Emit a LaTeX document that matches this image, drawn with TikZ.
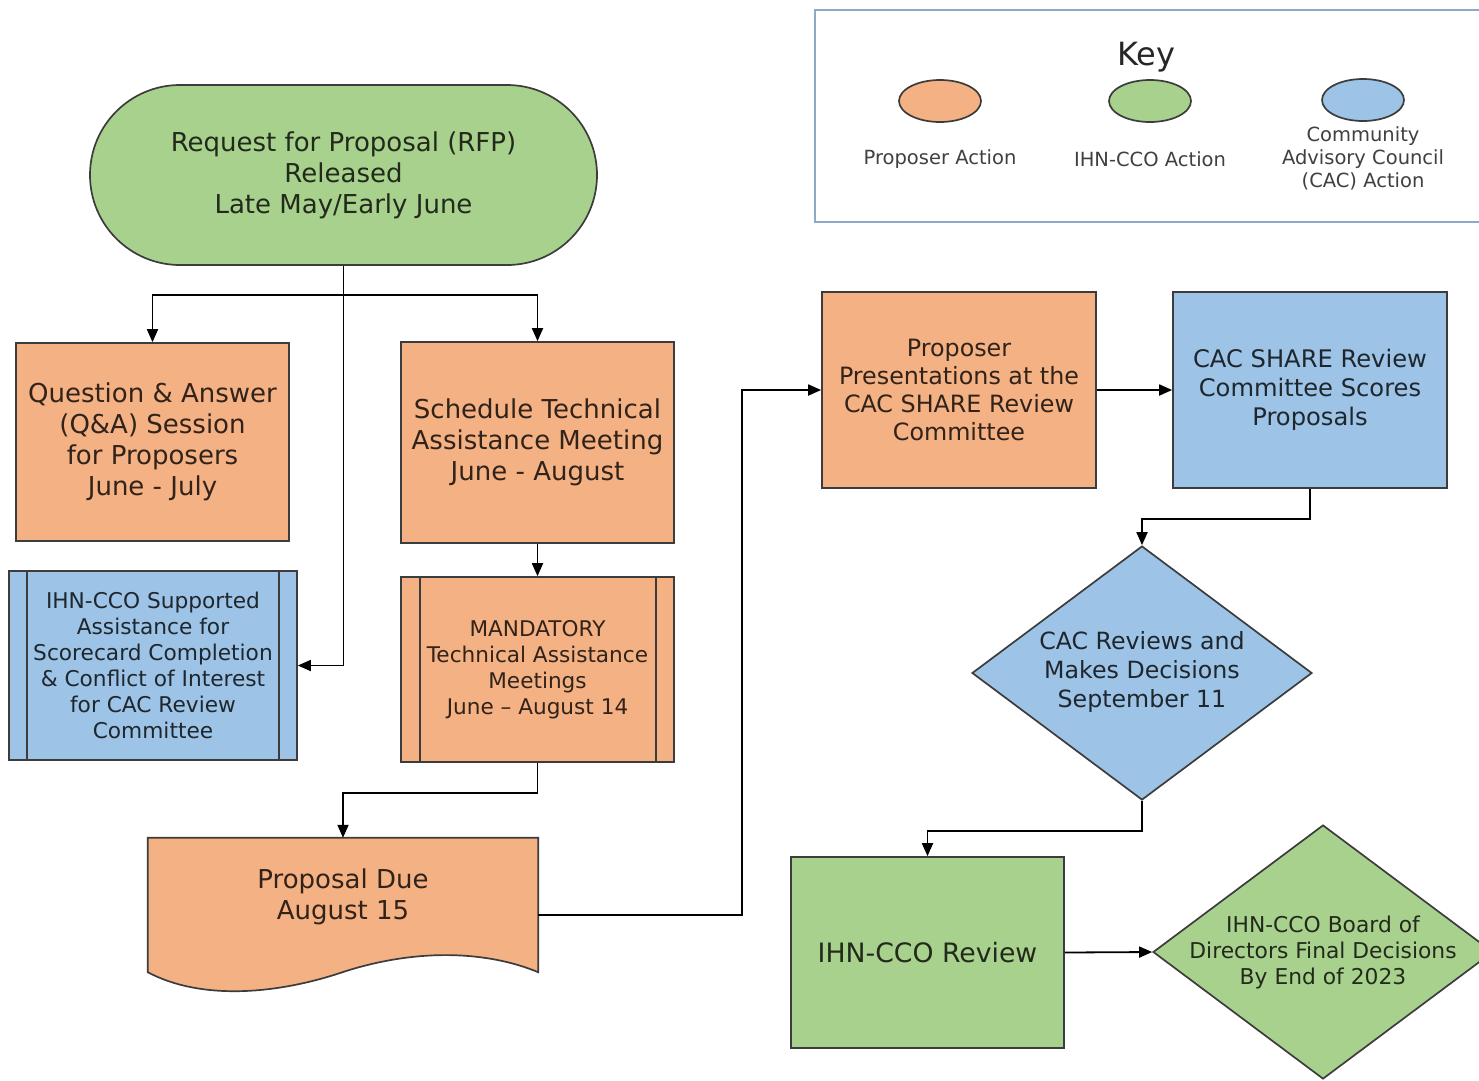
\documentclass[tikz,border=0pt]{standalone}
\usepackage{fontspec}
\setmainfont{DejaVu Sans}
\usetikzlibrary{shapes.geometric,arrows.meta}
\definecolor{orf}{HTML}{F4B183}
\definecolor{grf}{HTML}{A9D18E}
\definecolor{blf}{HTML}{9DC3E6}
\definecolor{bord}{HTML}{3C3C3C}
\definecolor{keyb}{HTML}{8EA9C8}
\newcommand{\fsz}[2]{\fontsize{#1}{#2}\selectfont}
\begin{document}
\begin{tikzpicture}[x=1pt,y=-1pt,
  base/.style={draw=bord, line width=1.7pt, align=center, inner sep=0pt},
  orbox/.style={base, fill=orf, text=orf!20!black},
  grbox/.style={base, fill=grf, text=grf!20!black},
  blbox/.style={base, fill=blf, text=blf!20!black},
  conn/.style={line width=1.8pt, black, -{Triangle[length=13pt,width=11pt]}},
  plain/.style={line width=1.8pt, black},
  inner/.style={draw=bord, line width=1.7pt}]
\useasboundingbox (0,0) rectangle (1479,1080);
\fill[white] (0,0) rectangle (1479,1080);
\clip (0,0) rectangle (1479,1080);

% Key
\node[draw=keyb, line width=2pt, minimum width=680pt, minimum height=212pt] (key) at (1155,116) {};
\node[font=\fsz{32}{36}, text=black!85] (keyt) at (1146,57) {Key};
\node[ellipse, base, fill=orf, minimum width=82pt, minimum height=42pt] (k1) at (940,101) {};
\node[ellipse, base, fill=grf, minimum width=82pt, minimum height=42pt] (k2) at (1150,101) {};
\node[ellipse, base, fill=blf, minimum width=82pt, minimum height=42pt] (k3) at (1363,100) {};
\node[font=\fsz{19.5}{23}, text=black!75, align=center] (k1t) at (940,159) {Proposer Action};
\node[font=\fsz{19.5}{23}, text=black!75, align=center] (k2t) at (1150,159) {IHN-CCO Action};
\node[font=\fsz{19.5}{23}, text=black!75, align=center] (k3t) at (1363,158) {Community\\Advisory Council\\(CAC) Action};

% Main nodes
\node[grbox, rounded corners=90pt, minimum width=507pt, minimum height=180pt, font=\fsz{26}{31}] (rfp) at (343.5,175) {Request for Proposal (RFP)\\Released\\Late May/Early June};
\node[orbox, minimum width=273pt, minimum height=198pt, font=\fsz{26}{31}] (qa) at (152.5,442) {Question \& Answer\\(Q\&A) Session\\for Proposers\\June - July};
\node[orbox, minimum width=273pt, minimum height=201pt, font=\fsz{26}{31}] (ta) at (537.5,442.5) {Schedule Technical\\Assistance Meeting\\June - August};
\node[blbox, minimum width=288pt, minimum height=189pt, font=\fsz{21.7}{26}] (sup) at (153,665.5) {IHN-CCO Supported\\Assistance for\\Scorecard Completion\\\& Conflict of Interest\\for CAC Review\\Committee};
\draw[inner] ([xshift=19pt]sup.north west) -- ([xshift=19pt]sup.south west);
\draw[inner] ([xshift=-19pt]sup.north east) -- ([xshift=-19pt]sup.south east);
\node[orbox, minimum width=273pt, minimum height=185pt, font=\fsz{21.6}{26}] (mand) at (537.5,669.5) {MANDATORY\\Technical Assistance\\Meetings\\June -- August 14};
\draw[inner] ([xshift=20pt]mand.north west) -- ([xshift=20pt]mand.south west);
\draw[inner] ([xshift=-19pt]mand.north east) -- ([xshift=-19pt]mand.south east);

% Document shape
\node[inner sep=0pt, minimum width=390pt, minimum height=117pt] (due) at (343,896.5) {};
\filldraw[fill=orf, draw=bord, line width=1.7pt] (due.north west) -- (due.north east) -- ([yshift=-17pt]due.south east) .. controls (490,952) and (420,947) .. (343,972) .. controls (275,995) and (200,1000) .. ([yshift=-17pt]due.south west) -- cycle;
\node[align=center, inner sep=0pt, font=\fsz{26}{31}, text=orf!20!black] (duet) at (due.center) {Proposal Due\\August 15};

\node[orbox, minimum width=274pt, minimum height=196pt, font=\fsz{23.8}{28}] (pres) at (959,390) {Proposer\\Presentations at the\\CAC SHARE Review\\Committee};
\node[blbox, minimum width=274pt, minimum height=196pt, font=\fsz{24.2}{29}] (share) at (1310,390) {CAC SHARE Review\\Committee Scores\\Proposals};
\node[diamond, base, fill=blf, minimum width=340pt, minimum height=254pt] (rev) at (1142,673) {};
\node[align=center, font=\fsz{23.7}{29}, text=blf!20!black] (revt) at (1142,671.5) {CAC Reviews and\\Makes Decisions\\September 11};
\node[grbox, minimum width=273pt, minimum height=191pt, font=\fsz{26.7}{31}] (ihn) at (927.5,952.5) {IHN-CCO Review};
\node[diamond, base, fill=grf, minimum width=340pt, minimum height=254pt] (board) at (1323,952) {};
\node[align=center, font=\fsz{21.8}{26}, text=grf!20!black] (boardt) at (1323,952) {IHN-CCO Board of\\Directors Final Decisions\\By End of 2023};

% Connectors
\coordinate (split) at ([yshift=-29pt]rfp.south);
\draw[plain] (rfp.south) -- (split);
\draw[conn] (split) -| (qa.north);
\draw[conn] (split) -| (ta.north);
\draw[conn] (rfp.south) |- (sup.east);
\draw[conn] (ta.south) -- (mand.north);
\draw[conn] (mand.south) -- ++(0,30) -| (due.north);
\coordinate (dueout) at ([yshift=-18.5pt]due.east);
\draw[conn] (dueout) -- ++(204,0) |- (pres.west);
\draw[conn] (pres.east) -- (share.west);
\draw[conn] (share.south) -- ++(0,30) -| (rev.north);
\draw[conn] (rev.south) -- ++(0,30) -| (ihn.north);
\draw[conn] (ihn.east) -- (board.west);
\end{tikzpicture}
\end{document}
